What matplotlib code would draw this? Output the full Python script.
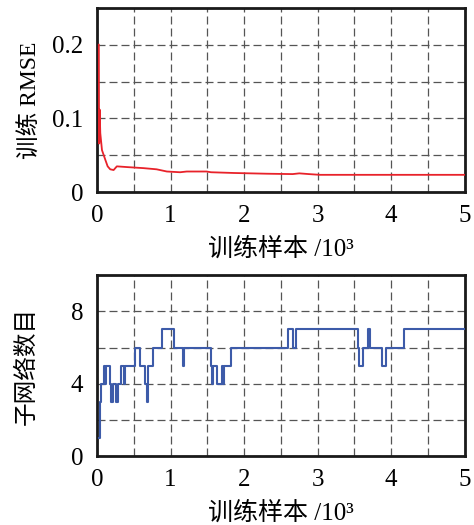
import numpy as np
import matplotlib.pyplot as plt

plt.rcParams['font.family'] = ['Liberation Serif', 'Noto Sans CJK SC']

# training RMSE curve (x in 10^3 samples)
rmse_x = [0.025, 0.027, 0.03, 0.036, 0.045, 0.068, 0.113, 0.145, 0.18, 0.226, 0.27,
          0.41, 0.63, 0.81, 0.95, 1.13, 1.22, 1.49, 1.55, 1.86, 2.31, 2.66,
          2.75, 2.88, 3.03, 4.0, 5.0]
rmse_y = [0.2, 0.12, 0.066, 0.112, 0.08, 0.057, 0.044, 0.035, 0.031, 0.030, 0.035,
          0.034, 0.0326, 0.031, 0.028, 0.027, 0.028, 0.028, 0.027, 0.026, 0.025, 0.0245,
          0.0255, 0.0245, 0.0235, 0.0235, 0.0235]

# number of sub-networks (step changes)
sub_x = [0.025, 0.036, 0.059, 0.09, 0.109, 0.127, 0.18, 0.195, 0.213, 0.258, 0.281,
         0.33, 0.372, 0.385, 0.511, 0.588, 0.656, 0.679, 0.69, 0.76, 0.882, 1.05,
         1.167, 1.18, 1.547, 1.57, 1.58, 1.638, 1.697, 1.71, 1.733, 1.824, 2.6,
         2.66, 2.706, 3.55, 3.566, 3.61, 3.688, 3.71, 3.878, 3.923, 4.176, 5.0]
sub_y = [1, 3, 4, 5, 4, 5, 4, 3, 4, 3, 4,
         5, 4, 5, 6, 5, 4, 3, 5, 6, 7, 6,
         5, 6, 5, 4, 5, 4, 5, 4, 5, 6, 7,
         6, 7, 6, 5, 6, 7, 6, 5, 6, 7, 7]

fig = plt.figure(figsize=(4.74, 5.25), dpi=100)
ax1 = fig.add_axes([0.2046, 0.634, 0.776, 0.351])
ax2 = fig.add_axes([0.2046, 0.131, 0.776, 0.345])

ax1.plot(rmse_x, rmse_y, color='#e8222a', lw=1.3, zorder=3)
ax2.step(sub_x, sub_y, where='post', color='#3d5ba9', lw=1.5, zorder=3)

ax1.set_ylim(0, 0.25)
ax1.set_yticks(np.arange(0, 0.26, 0.05))
ax1.set_yticklabels(['0', '', '0.1', '', '0.2', ''])
ax1.set_ylabel('训练 RMSE', fontsize=17, labelpad=7)

ax2.set_ylim(0, 10)
ax2.set_yticks(np.arange(0, 11, 2))
ax2.set_yticklabels(['0', '', '4', '', '8', ''])
ax2.set_ylabel('子网络数目', fontsize=17, labelpad=24)

for ax in (ax1, ax2):
    ax.set_xlim(0, 5)
    ax.set_xticks(np.arange(0, 5.1, 0.5))
    ax.set_xticklabels(['0', '', '1', '', '2', '', '3', '', '4', '', '5'])
    ax.set_xlabel('训练样本 /10³', fontsize=18, labelpad=8)
    ax.grid(True, ls=(0, (6.4, 3.2)), color='#555555', lw=0.9)
    ax.tick_params(length=0, labelsize=18)
    ax.tick_params(axis='x', pad=9)
    ax.tick_params(axis='y', pad=10)
    for s in ax.spines.values():
        s.set_linewidth(2)
        s.set_color('#1a1a1a')

plt.savefig('out.png', dpi=100)
